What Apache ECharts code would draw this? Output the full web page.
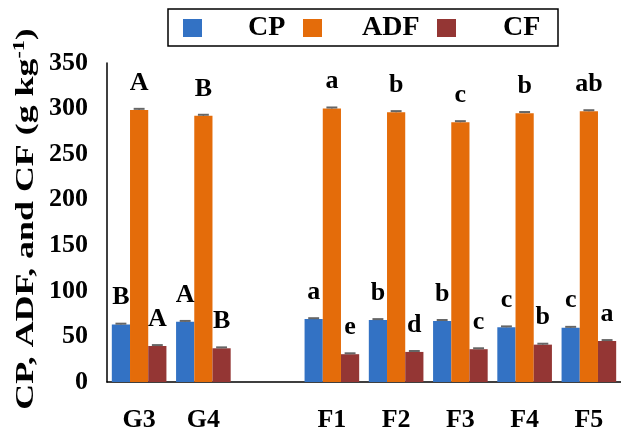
<!DOCTYPE html>
<html>
<head>
<meta charset="utf-8">
<script src="https://cdn.jsdelivr.net/npm/echarts@6/dist/echarts.min.js"></script>
<style>html,body{margin:0;padding:0;background:#fff}#c{width:621px;height:433px}</style>
</head>
<body>
<div id="c"></div>
<script>
var categories = ['G3', 'G4', '', 'F1', 'F2', 'F3', 'F4', 'F5'];
var seriesNames = ['CP', 'ADF', 'CF'];
var cp  = [63, 66, null, 69, 68, 67, 60, 59.5];
var adf = [298.5, 292, null, 300, 296, 285, 295, 297];
var cf  = [39.5, 37, null, 30.5, 33, 36, 41, 45];
var cpErr  = [1, 1, null, 1, 1, 1, 1, 1];
var adfErr = [1.2, 1.2, null, 1.2, 1.2, 1.2, 1.2, 1.2];
var cfErr  = [1, 1, null, 1, 1, 1, 1, 1];
var cpLetters  = ['B', 'A', '', 'a', 'b', 'b', 'c', 'c'];
var adfLetters = ['A', 'B', '', 'a', 'b', 'c', 'b', 'ab'];
var cfLetters  = ['A', 'B', '', 'e', 'd', 'c', 'b', 'a'];
var yTicks = {min: 0, max: 350, interval: 50};
var yTitle = 'CP, ADF, and CF (g kg{sup|-1})';

var colors = ['#3372C4', '#E46C0A', '#943634'];
var values = [cp, adf, cf];
var errs = [cpErr, adfErr, cfErr];
var letters = [cpLetters, adfLetters, cfLetters];
var FONT = '"Liberation Serif", "Times New Roman", serif';
var GAP = 0.15;

var chart = echarts.init(document.getElementById('c'));
var series = [];
seriesNames.forEach(function (name, si) {
  series.push({
    name: name,
    type: 'bar',
    data: values[si],
    barGap: '0%',
    barCategoryGap: (GAP * 100) + '%',
    itemStyle: {color: colors[si]},
    label: {
      show: true,
      position: 'top',
      distance: 14,
      color: '#000',
      fontFamily: FONT,
      fontWeight: 'bold',
      fontSize: 26,
      formatter: function (p) { return letters[si][p.dataIndex] || ''; }
    },
    z: 2
  });
});
seriesNames.forEach(function (name, si) {
  var d = values[si].map(function (v, i) { return v == null ? [i, null, null] : [i, v, errs[si][i]]; });
  series.push({
    type: 'custom',
    name: name + ' err',
    data: d,
    z: 5,
    silent: true,
    renderItem: function (params, api) {
      var v = api.value(1), e = api.value(2);
      if (v == null || isNaN(v)) return;
      var catW = api.size([1, 0])[0];
      var bw = catW * (1 - GAP) / 3;
      var c0 = api.coord([api.value(0), v]);
      var c1 = api.coord([api.value(0), v + e]);
      var x = c0[0] + (si - 1) * bw;
      var hw = bw * 0.3;
      return {
        type: 'group',
        children: [
          {type: 'line', shape: {x1: x, y1: c0[1], x2: x, y2: c1[1]}, style: {stroke: '#666', lineWidth: 1.5}},
          {type: 'line', shape: {x1: x - hw, y1: c1[1], x2: x + hw, y2: c1[1]}, style: {stroke: '#666', lineWidth: 2}}
        ]
      };
    }
  });
});

var legendIconX = [183, 303, 437];
var legendGaps = [41, 35, 42];
var legends = seriesNames.map(function (name, si) {
  return {
    data: [name],
    left: legendIconX[si],
    top: 14,
    padding: 0,
    itemWidth: 19,
    itemHeight: 18,
    icon: 'rect',
    selectedMode: false,
    formatter: function (n) { return '{g|}' + n; },
    textStyle: {
      fontFamily: FONT, fontWeight: 'bold', fontSize: 28, color: '#000', lineHeight: 28,
      rich: {g: {width: legendGaps[si]}}
    }
  };
});

chart.setOption({
  animation: false,
  color: colors,
  legend: legends,
  graphic: [{
    type: 'rect',
    shape: {x: 168, y: 9, width: 390, height: 37},
    style: {fill: 'none', stroke: '#000', lineWidth: 1.5},
    silent: true
  }, {
    type: 'text',
    x: 26, y: 219,
    rotation: Math.PI / 2,
    scaleX: 1.38, scaleY: 1,
    silent: true,
    style: {
      text: yTitle,
      fontFamily: FONT, fontWeight: 'bold', fontSize: 26, fill: '#000',
      align: 'center', verticalAlign: 'middle',
      rich: {sup: {fontFamily: FONT, fontWeight: 'bold', fontSize: 16, fill: '#000', verticalAlign: 'top', padding: [0, 0, 12, 0]}}
    }
  }],
  grid: {left: 107, width: 522, top: 63, bottom: 44},
  xAxis: {
    type: 'category',
    data: categories,
    axisLine: {lineStyle: {color: '#000', width: 1.5}},
    axisTick: {show: false},
    axisLabel: {fontFamily: FONT, fontWeight: 'bold', fontSize: 26, color: '#000', margin: 25, interval: 0}
  },
  yAxis: {
    type: 'value',
    min: yTicks.min, max: yTicks.max, interval: yTicks.interval,
    axisLine: {show: true, lineStyle: {color: '#000', width: 1.5}},
    axisTick: {show: false},
    splitLine: {show: false},
    axisLabel: {fontFamily: FONT, fontWeight: 'bold', fontSize: 26, color: '#000', margin: 19}
  },
  series: series
});
</script>
</body>
</html>
